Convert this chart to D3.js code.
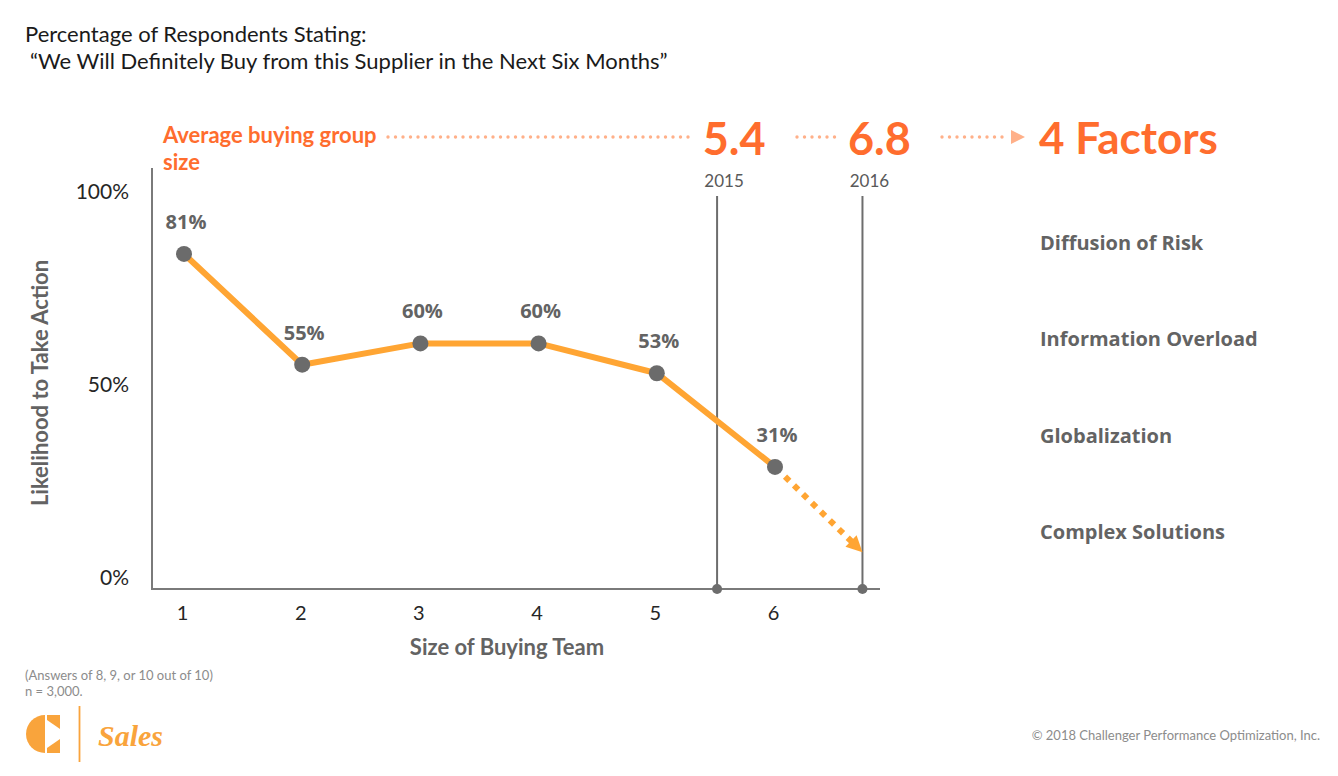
<!DOCTYPE html>
<html>
<head>
<meta charset="utf-8">
<script src="https://cdn.jsdelivr.net/npm/d3@7"></script>
<style>
  html, body { margin: 0; padding: 0; background: #fff; }
  svg { display: block; }
</style>
</head>
<body>
<svg id="chart" width="1338" height="776"></svg>
<script>
// ---------- data ----------
const teamSizes = [1, 2, 3, 4, 5, 6];
const likelihood = [81, 55, 60, 60, 53, 31];
const projection = [[6, 31], [6.74, 11]];          // dotted trend continuation
const yTicks = [0, 50, 100];
const markerYears = ["2015", "2016"];
const markerValues = ["5.4", "6.8"];
const markerPos = [5.51, 6.74];                      // where the markers sit on the size axis
const factors = ["Diffusion of Risk", "Information Overload", "Globalization", "Complex Solutions"];
const titleLines = ["Percentage of Respondents Stating:", "\u201CWe Will Definitely Buy from this Supplier in the Next Six Months\u201D"];
const footnotes = ["(Answers of 8, 9, or 10 out of 10)", "n = 3,000."];

// ---------- style ----------
const ORANGE_LINE = "#FFA533";
const ORANGE_TXT = "#FF6D2E";
const ORANGE_DOT = "#FFB089";
const GRAY_PT = "#6B6B6B";
const GRAY_TXT = "#636363";
const AXIS = "#7a7a7a";
const CAL = "Lato, 'Open Sans', sans-serif";
const OS = "'Open Sans', Lato, sans-serif";

const svg = d3.select("#chart");

// scales
const x = d3.scaleLinear().domain([1, 6]).range([184, 775]);
const y = d3.scaleLinear().domain([0, 100]).range([599, 173]);
const yLab = d3.scaleLinear().domain([0, 100]).range([577, 191]);

const plotLeft = 152, plotRight = 880, plotBottom = 589, plotTop = 168;

// ---------- title ----------
svg.append("text").attr("x", 25).attr("y", 42).attr("font-family", CAL).attr("font-size", 22)
  .attr("fill", "#1a1a1a").text(titleLines[0]);
svg.append("text").attr("x", 30).attr("y", 69).attr("font-family", CAL).attr("font-size", 22)
  .attr("fill", "#1a1a1a").text(titleLines[1]);

// ---------- axes frame ----------
svg.append("line").attr("x1", plotLeft).attr("x2", plotLeft).attr("y1", plotTop).attr("y2", plotBottom)
  .attr("stroke", AXIS).attr("stroke-width", 2);
svg.append("line").attr("x1", plotLeft - 1).attr("x2", plotRight).attr("y1", plotBottom).attr("y2", plotBottom)
  .attr("stroke", AXIS).attr("stroke-width", 2);

// y tick labels
const yAxis = d3.axisLeft(yLab).tickValues(yTicks).tickSize(0).tickPadding(0).tickFormat(d => d + "%");
const gy = svg.append("g").attr("transform", "translate(129,0)").call(yAxis);
gy.select(".domain").remove();
gy.selectAll("text").attr("font-family", CAL).attr("font-size", 21).attr("fill", "#262626")
  .attr("dy", "0.35em");

// x tick labels
const xAxis = d3.axisBottom(x).tickValues(teamSizes).tickSize(0).tickPadding(0).tickFormat(d3.format("d"));
const gx = svg.append("g").attr("transform", "translate(-2,606)").call(xAxis);
gx.select(".domain").remove();
gx.selectAll("text").attr("font-family", CAL).attr("font-size", 20).attr("fill", "#262626").attr("dy", "0.71em");

// axis titles
svg.append("text").attr("x", 507).attr("y", 655).attr("text-anchor", "middle")
  .attr("font-family", CAL).attr("font-weight", 700).attr("font-size", 22).attr("fill", GRAY_TXT)
  .text("Size of Buying Team");
svg.append("text").attr("transform", "translate(48,383) rotate(-90)").attr("text-anchor", "middle")
  .attr("font-family", CAL).attr("font-weight", 700).attr("font-size", 22).attr("fill", GRAY_TXT)
  .text("Likelihood to Take Action");

// ---------- marker lines (2015 / 2016) ----------
const mk = svg.append("g").selectAll("g").data(markerPos).join("g");
mk.append("line").attr("x1", d => x(d)).attr("x2", d => x(d)).attr("y1", 196).attr("y2", plotBottom)
  .attr("stroke", "#6d6d6d").attr("stroke-width", 2);
mk.append("circle").attr("cx", d => x(d)).attr("cy", plotBottom).attr("r", 5).attr("fill", "#6d6d6d");
mk.append("text").attr("x", d => x(d) + 7).attr("y", 187).attr("text-anchor", "middle")
  .attr("font-family", CAL).attr("font-size", 17).attr("fill", "#595959")
  .text((d, i) => markerYears[i]);
mk.append("text").attr("x", d => x(d) + 17).attr("y", 155).attr("text-anchor", "middle")
  .attr("font-family", CAL).attr("font-weight", 700).attr("font-size", 45).attr("fill", ORANGE_TXT)
  .text((d, i) => markerValues[i]);

// ---------- header annotation ----------
svg.append("text").attr("x", 163).attr("y", 143).attr("font-family", CAL).attr("font-weight", 700)
  .attr("font-size", 22).attr("fill", ORANGE_TXT).text("Average buying group");
svg.append("text").attr("x", 163).attr("y", 170).attr("font-family", CAL).attr("font-weight", 700)
  .attr("font-size", 22).attr("fill", ORANGE_TXT).text("size");

const dotted = [[388, 690], [797, 840], [942, 1008]];
svg.append("g").selectAll("line").data(dotted).join("line")
  .attr("x1", d => d[0]).attr("x2", d => d[1]).attr("y1", 137).attr("y2", 137)
  .attr("stroke", ORANGE_DOT).attr("stroke-width", 3.4).attr("stroke-linecap", "round")
  .attr("stroke-dasharray", "0 7.5");
svg.append("path").attr("d", "M1011,130 L1025,137 L1011,144 Z").attr("fill", ORANGE_DOT);

svg.append("text").attr("x", 1039).attr("y", 154).attr("font-family", CAL).attr("font-weight", 700)
  .attr("font-size", 44).attr("fill", ORANGE_TXT).text("4 Factors");

// factors list
svg.append("g").selectAll("text").data(factors).join("text")
  .attr("x", 1040).attr("y", (d, i) => 250 + i * 96.3)
  .attr("font-family", OS).attr("font-weight", 700).attr("font-size", 20).attr("fill", GRAY_TXT)
  .text(d => d);

// ---------- data line ----------
const pts = teamSizes.map((t, i) => [t, likelihood[i]]);
const line = d3.line().x(d => x(d[0])).y(d => y(d[1]));

// projection (dotted with arrowhead)
const p0 = projection[0], p1 = projection[1];
const ang = Math.atan2(y(p1[1]) - y(p0[1]), x(p1[0]) - x(p0[0]));
const headLen = 16;
const shaftEnd = [x(p1[0]) - Math.cos(ang) * (headLen - 2), y(p1[1]) - Math.sin(ang) * (headLen - 2)];
svg.append("line").attr("x1", x(p0[0]) + Math.cos(ang) * 14).attr("y1", y(p0[1]) + Math.sin(ang) * 14)
  .attr("x2", shaftEnd[0]).attr("y2", shaftEnd[1])
  .attr("stroke", ORANGE_LINE).attr("stroke-width", 6).attr("stroke-dasharray", "6 6.5");
{
  const tx = x(p1[0]), ty = y(p1[1]);
  const bx = tx - Math.cos(ang) * headLen, by = ty - Math.sin(ang) * headLen;
  const w = 8;
  const nx = -Math.sin(ang) * w, ny = Math.cos(ang) * w;
  svg.append("path").attr("d", `M${tx},${ty} L${bx + nx},${by + ny} L${bx - nx},${by - ny} Z`)
    .attr("fill", ORANGE_LINE);
}

svg.append("path").datum(pts).attr("d", line).attr("fill", "none")
  .attr("stroke", ORANGE_LINE).attr("stroke-width", 6).attr("stroke-linejoin", "round");

svg.append("g").selectAll("circle").data(pts).join("circle")
  .attr("cx", d => x(d[0])).attr("cy", d => y(d[1])).attr("r", 8).attr("fill", GRAY_PT);

svg.append("g").selectAll("text").data(pts).join("text")
  .attr("x", d => x(d[0]) + 2).attr("y", d => y(d[1]) - 25).attr("text-anchor", "middle")
  .attr("font-family", OS).attr("font-weight", 700).attr("font-size", 20).attr("fill", GRAY_TXT)
  .text(d => d[1] + "%");

// ---------- footnotes ----------
svg.append("g").selectAll("text").data(footnotes).join("text")
  .attr("x", 25).attr("y", (d, i) => 680 + i * 16)
  .attr("font-family", CAL).attr("font-size", 13).attr("fill", "#8c8c8c").text(d => d);

svg.append("text").attr("x", 1320).attr("y", 740).attr("text-anchor", "end")
  .attr("font-family", CAL).attr("font-size", 13).attr("fill", "#8c8c8c")
  .text("\u00A9 2018 Challenger Performance Optimization, Inc.");

// ---------- logo ----------
const LOGO = "#F9A43C";
const lg = svg.append("g");
lg.append("path").attr("d", "M45,715 A19,19 0 0 0 45,753 Z").attr("fill", LOGO);
lg.append("path").attr("d", "M47,715 L60,715 L60,729 L47,720 Z").attr("fill", LOGO);
lg.append("path").attr("d", "M47,748 L60,739 L60,753 L47,753 Z").attr("fill", LOGO);
lg.append("line").attr("x1", 79.5).attr("x2", 79.5).attr("y1", 706).attr("y2", 762)
  .attr("stroke", LOGO).attr("stroke-width", 1.8);
lg.append("text").attr("x", 98).attr("y", 746).attr("font-family", "'Liberation Serif', serif")
  .attr("font-style", "italic").attr("font-weight", 700).attr("font-size", 30).attr("fill", LOGO).text("Sales");
</script>
</body>
</html>
